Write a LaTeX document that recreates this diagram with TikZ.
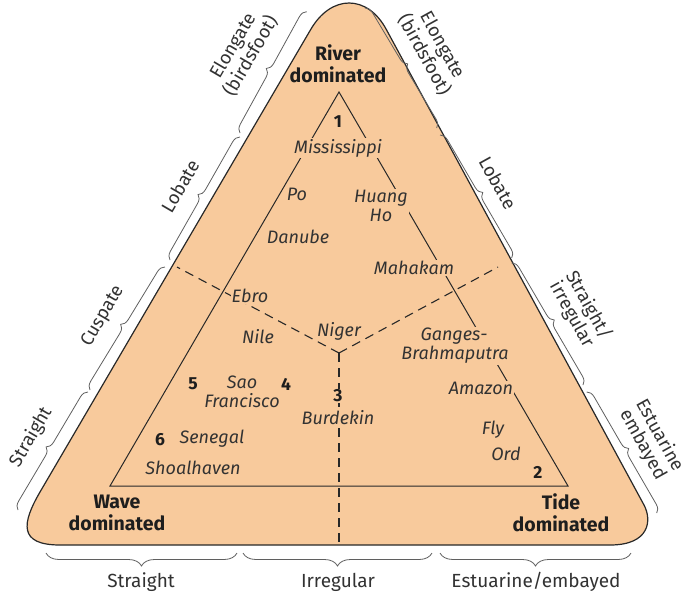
\documentclass[tikz,border=0pt]{standalone}
\usepackage{fontspec}
\setmainfont{Fira Sans}
\usetikzlibrary{decorations.pathreplacing}
\definecolor{fillc}{RGB}{248,202,156}
\definecolor{edgec}{RGB}{40,40,40}
\definecolor{bracec}{RGB}{95,95,95}
\definecolor{txtc}{RGB}{50,50,50}
\definecolor{boldc}{RGB}{30,30,30}
\begin{document}
\begin{tikzpicture}[x=1pt,y=-1pt,
  every node/.style={inner sep=1pt, text=txtc},
  riv/.style={font=\fontsize{18}{19.5}\selectfont\itshape, align=center},
  bigbold/.style={font=\fontsize{19.5}{22}\selectfont\bfseries, text=boldc, align=center},
  num/.style={font=\fontsize{17.5}{19}\selectfont\bfseries, text=boldc},
  maskfill/.style={fill=fillc},
  sidelab/.style={font=\fontsize{18.5}{19}\selectfont, align=center},
  btmlab/.style={font=\fontsize{19}{21}\selectfont},
  sbrace/.style={draw=bracec, line width=0.8pt, decorate, decoration={brace, amplitude=8pt}},
  bbrace/.style={draw=bracec, line width=0.8pt, decorate, decoration={brace, amplitude=13pt}},
  dline/.style={draw=edgec, line width=1.1pt, dash pattern=on 9pt off 6pt},
  innertri/.style={draw=edgec, line width=1pt},
]
\useasboundingbox (0,0) rectangle (688,595);

% outer rounded triangle
\draw[fill=fillc, draw=edgec, line width=1.2pt]
 (310.4,30) .. controls (331,-6) and (367.6,-6) .. (386.6,30)
 -- (644,505) .. controls (652,520) and (650,545) .. (610,545)
 -- (60,545) .. controls (18,545) and (22,523) .. (40,492) -- cycle;

% dashed fields
\coordinate (J) at (339,353);
\coordinate (DL) at (177,267);
\coordinate (DR) at (498,267);
\coordinate (DB) at (339,545);
\draw[dline] (J) -- (DL);
\draw[dline] (J) -- (DR);
\draw[dline] (J) -- (DB);

% inner triangle
\coordinate (TA) at (339,92);
\coordinate (TL) at (110,486);
\coordinate (TR) at (568,486);
\draw[innertri] (TA) -- (TL) -- (TR) -- cycle;

% corner labels
\node[bigbold] (river) at (338,64) {River\\dominated};
\node[bigbold] (wave) at (117,513) {Wave\\dominated};
\node[bigbold] (tide) at (561,513) {Tide\\dominated};

% numbers
\node[num] (n1) at (338,122) {1};
\node[num] (n2) at (538,472) {2};
\node[num, maskfill] (n3) at (338,396) {3};
\node[num] (n4) at (286,384) {4};
\node[num] (n5) at (193,384) {5};
\node[num] (n6) at (160,440) {6};

% rivers
\node[riv, maskfill] (miss) at (338,148) {Mississippi};
\node[riv] (po) at (297,194) {Po};
\node[riv, maskfill] (huang) at (381,206) {Huang\\Ho};
\node[riv] (danube) at (298,237) {Danube};
\node[riv, maskfill] (mahakam) at (414,268) {Mahakam};
\node[riv, maskfill] (ebro) at (250,296) {Ebro};
\node[riv] (nile) at (258,337) {Nile};
\node[riv] (niger) at (339,331) {Niger};
\node[riv, maskfill] (ganges) at (454,336) {Ganges-};
\node[riv, maskfill] (brahma) at (455,355) {Brahmaputra};
\node[riv, maskfill] (amazon) at (481,388) {Amazon};
\node[riv] (sao) at (242,392) {Sao\\Francisco};
\node[riv, maskfill] (burdekin) at (338,418) {Burdekin};
\node[riv] (senegal) at (212,439) {Senegal};
\node[riv] (shoal) at (193,468) {Shoalhaven};
\node[riv] (fly) at (493,430) {Fly};
\node[riv] (ord) at (506,454) {Ord};

% side braces, left
\coordinate (l1a) at (240,133); \coordinate (l1b) at (306.7,11.7);
\coordinate (l2a) at (170,260); \coordinate (l2b) at (240,137);
\coordinate (l3a) at (90,390);  \coordinate (l3b) at (165,267);
\coordinate (l4a) at (18,510);  \coordinate (l4b) at (88,392);
\draw[sbrace] (l1a) -- (l1b);
\draw[sbrace] (l2a) -- (l2b);
\draw[sbrace] (l3a) -- (l3b);
\draw[sbrace] (l4a) -- (l4b);
\node[sidelab, rotate=59.7] (le) at (242,51) {Elongate\\(birdsfoot)};
\node[sidelab, rotate=59.7] (ll) at (180,186) {Lobate};
\node[sidelab, rotate=59.7] (lc) at (103,316) {Cuspate};
\node[sidelab, rotate=59.7] (ls) at (31,437) {Straight};

% side braces, right
\coordinate (r1a) at (365,8);     \coordinate (r1b) at (436.7,128);
\coordinate (r2a) at (440,135);   \coordinate (r2b) at (511.7,258);
\coordinate (r3a) at (511.7,263); \coordinate (r3b) at (583,385);
\coordinate (r4a) at (586.7,392); \coordinate (r4b) at (656.7,513);
\draw[sbrace] (r1a) -- (r1b);
\draw[sbrace] (r2a) -- (r2b);
\draw[sbrace] (r3a) -- (r3b);
\draw[sbrace] (r4a) -- (r4b);
\node[sidelab, rotate=-61] (re) at (433,50) {Elongate\\(birdsfoot)};
\node[sidelab, rotate=-61] (rl) at (498,183) {Lobate};
\node[sidelab, rotate=-61] (rs) at (580,310) {Straight/\\irregular};
\node[sidelab, rotate=-61] (rest) at (651,440) {Estuarine\\embayed};

% bottom braces
\coordinate (b1a) at (237,553); \coordinate (b1b) at (46,553);
\coordinate (b2a) at (432,553); \coordinate (b2b) at (243,553);
\coordinate (b3a) at (631,553); \coordinate (b3b) at (440,553);
\draw[bbrace] (b1a) -- (b1b);
\draw[bbrace] (b2a) -- (b2b);
\draw[bbrace] (b3a) -- (b3b);
\node[btmlab] (bs) at (141,582) {Straight};
\node[btmlab] (bi) at (338,582) {Irregular};
\node[btmlab] (be) at (536,582) {Estuarine/embayed};
\end{tikzpicture}
\end{document}
